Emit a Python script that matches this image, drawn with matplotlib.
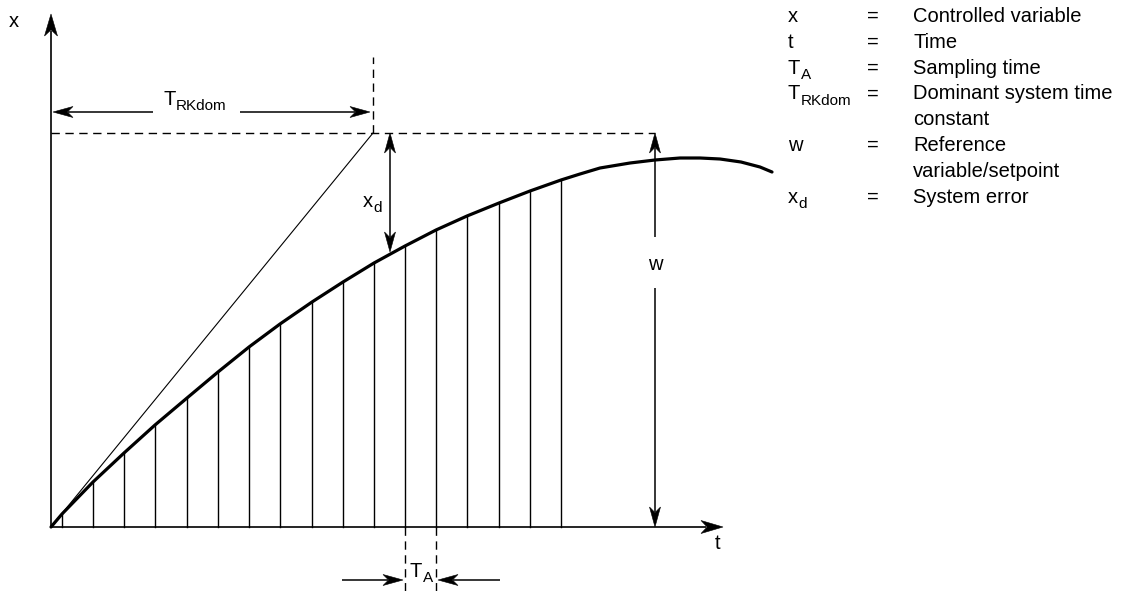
import numpy as np
import matplotlib.pyplot as plt
from matplotlib.patches import Polygon

plt.rcParams['font.family'] = ['Liberation Sans', 'DejaVu Sans']

# valores (t hacia la derecha, x hacia arriba, origen en el eje)
sample_t = [11, 42, 73, 104, 136, 167, 198, 229, 261, 292, 323, 354, 385, 416, 448, 479, 510]
sample_x = [13, 45, 74, 102, 129, 155, 180, 203, 225, 245, 264, 281, 297, 311, 324, 336, 347]
tail_t = [529, 549, 579, 604, 629, 649, 669, 690, 709, 721]
tail_x = [353, 359, 364, 367, 369, 369, 368, 365, 360, 355]
w_level = 394
t_rkdom = 322
xd_t = 339
w_t = 604
ta_pair = [354, 385]

legend_sym = [('x', ''), ('t', ''), ('T', 'A'), ('T', 'RKdom'), ('w', ''), ('x', 'd')]
legend_txt = ['Controlled variable', 'Time', 'Sampling time',
              'Dominant system time\nconstant', 'Reference\nvariable/setpoint', 'System error']

FS = 14.5
ANCHO = {'T': 0.62, 'x': 0.5, 't': 0.28, 'w': 0.72}


def flecha(ax, x0, y0, x1, y1, lw=1.1, hl=20, hw=5.5):
    d = np.array([x1 - x0, y1 - y0], float)
    u = d / np.hypot(*d)
    n = np.array([-u[1], u[0]])
    tip = np.array([x1, y1], float)
    base = tip - u * hl
    end = base + u * 5
    ax.plot([x0, end[0]], [y0, end[1]], color='k', lw=lw, solid_capstyle='butt')
    ax.add_patch(Polygon([tip, base + n * hw, tip - u * hl * 0.72, base - n * hw],
                         closed=True, fc='k', ec='k', lw=0.4))


def etiqueta(ax, x, y, base, sub):
    # texto con subindice dibujado aparte
    ax.text(x, y, base, fontsize=FS, ha='left', va='baseline')
    if sub:
        ax.annotate(sub, (x, y), xytext=(ANCHO[base] * FS, -0.27 * FS),
                    textcoords='offset points', fontsize=0.76 * FS,
                    ha='left', va='baseline')


fig = plt.figure(figsize=(11.23, 5.91), dpi=100)
ax = fig.add_axes([0, 0, 1, 1])
ax.set_xlim(-51, 1072)
ax.set_ylim(-64, 527)
ax.axis('off')

# ejes
flecha(ax, 0, 0, 0, 513, lw=1.2, hl=22, hw=6.5)
flecha(ax, 0, 0, 672, 0, lw=1.2, hl=22, hw=6.5)
ax.text(-37, 500, 'x', fontsize=FS, ha='center', va='baseline')
ax.text(667, -22, 't', fontsize=FS, ha='center', va='baseline')

# muestras
for t, x in zip(sample_t, sample_x):
    ax.plot([t, t], [0, x], color='k', lw=1.0)

# curva
curve_t = [0] + sample_t + tail_t
curve_x = [0] + sample_x + tail_x
ax.plot(curve_t, curve_x, color='k', lw=2.3, solid_capstyle='round', solid_joinstyle='round')

# tangente y lineas de referencia
ax.plot([0, t_rkdom], [0, w_level], color='k', lw=0.8)
ax.plot([0, w_t], [w_level, w_level], color='k', lw=1.0, linestyle=(0, (6, 4)))
ax.plot([t_rkdom, t_rkdom], [w_level, 470], color='k', lw=1.0, linestyle=(0, (6, 4)))

# T_RKdom
flecha(ax, 102, 415, 2, 415)
flecha(ax, 189, 415, 319, 415)
etiqueta(ax, 112, 422, 'T', 'RKdom')

# x_d
flecha(ax, xd_t, 330, xd_t, w_level)
flecha(ax, xd_t, 330, xd_t, 275)
etiqueta(ax, 312, 320, 'x', 'd')

# w
flecha(ax, w_t, 290, w_t, w_level)
flecha(ax, w_t, 239, w_t, 0)
ax.text(w_t, 257, 'w', fontsize=FS, ha='center', va='baseline')

# T_A
for t in ta_pair:
    ax.plot([t, t], [0, -64], color='k', lw=1.0, linestyle=(0, (6, 4)))
flecha(ax, 291, -53, ta_pair[0] - 2, -53)
flecha(ax, 449, -53, ta_pair[1] + 2, -53)
etiqueta(ax, 359, -50, 'T', 'A')

# leyenda
row = 0
for (b, s), txt in zip(legend_sym, legend_txt):
    y = 505 - 25.8 * row
    etiqueta(ax, 737, y, b, s)
    ax.text(822, y, '=', fontsize=FS, ha='center', va='baseline')
    for line in txt.split('\n'):
        ax.text(862, 505 - 25.8 * row, line, fontsize=FS, ha='left', va='baseline')
        row += 1

plt.savefig('out.png', dpi=100)
